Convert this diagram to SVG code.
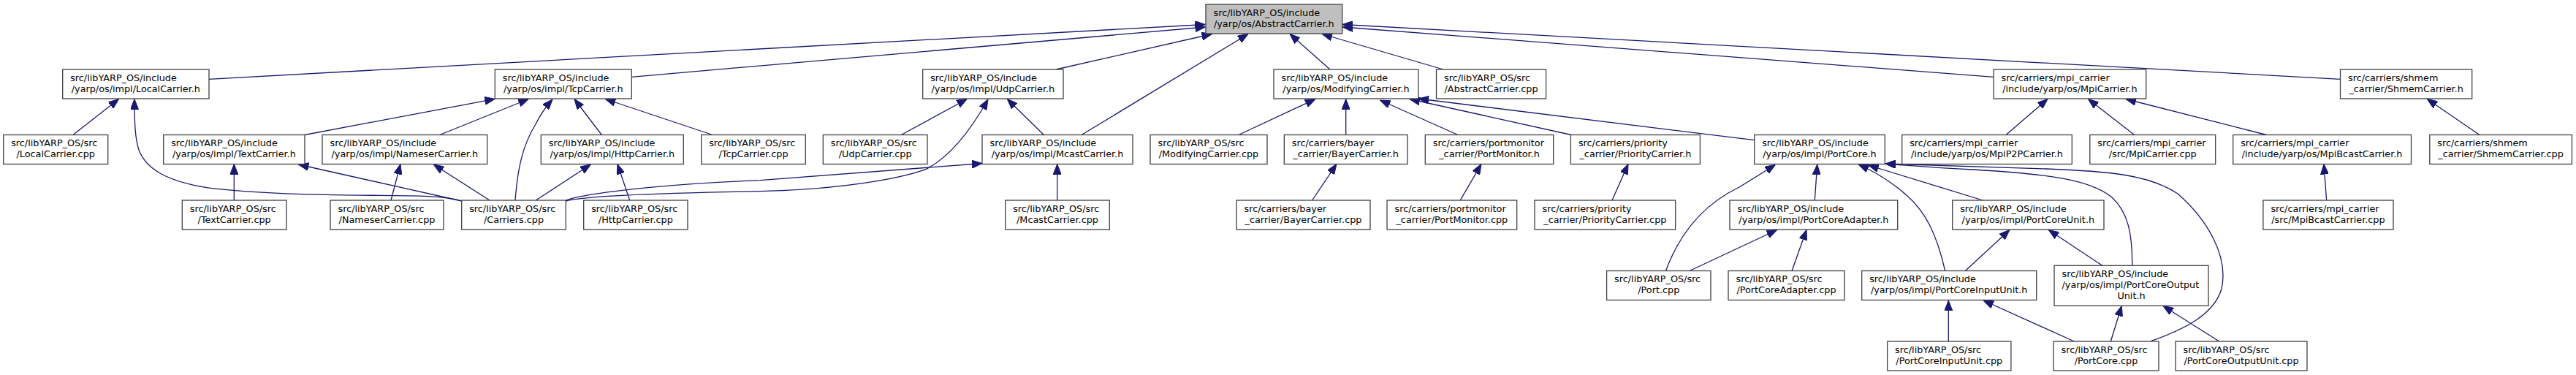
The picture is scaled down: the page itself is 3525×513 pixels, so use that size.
<svg xmlns="http://www.w3.org/2000/svg" width="3525" height="513" viewBox="0 0 3525 513">
<style>
.n rect{fill:#fff;stroke:#404040;stroke-width:1.3}
.n.root rect{fill:#bfbfbf}
.n text{font-family:"DejaVu Sans",sans-serif;font-size:12.8px;fill:#000}
.n text.m{text-anchor:middle}
.e path{fill:none;stroke:#191970;stroke-width:1.3;marker-end:url(#a)}
</style>
<defs>
<marker id="a" viewBox="0 0 14 11" refX="14" refY="5.5" markerWidth="14" markerHeight="11" markerUnits="userSpaceOnUse" orient="auto">
<path d="M0,0 L14,5.5 L0,11 z" fill="#191970" stroke="#191970" stroke-width="1"/>
</marker>
</defs>
<rect width="3525" height="513" fill="#fff"/>
<g id="edges" class="e">
<path d="M286,108.3 L1649.5,33.5"/>
<path d="M864.3,105.3 L1649.5,37"/>
<path d="M1445,95 L1658.5,46.5"/>
<path d="M1480,184.5 L1708,46.5"/>
<path d="M1820,95 L1765,46.5"/>
<path d="M1975,95 L1809,46.5"/>
<path d="M2728,105.3 L1837,37"/>
<path d="M3202.5,108.3 L1837,33.5"/>
<path d="M100,184.5 L162.5,135.5"/>
<path d="M631.7,275 C610,268 570,267.5 520,267.3 C420,267 330,263 283,256.7 C230,248 200,232 190,205 C185,190 184,170 184,135.5"/>
<path d="M417,184.5 L677.3,135.3"/>
<path d="M601.7,184.5 L723.3,135.5"/>
<path d="M705,274 C708,235 714,200 733,170 C740,155 748,145 756,136"/>
<path d="M823.3,184.5 L786,135.5"/>
<path d="M975,184.5 L828.3,135.5"/>
<path d="M320.3,274 L320.3,224.5"/>
<path d="M631.7,275 L408.5,225"/>
<path d="M535,274 L548,224.5"/>
<path d="M670,274 L593.3,225"/>
<path d="M733.3,274 L808.3,225"/>
<path d="M861.7,274 L845,224.5"/>
<path d="M1233.3,184.5 L1323.3,135.5"/>
<path d="M774.3,275 C800,268 900,264 1040,261.7 C1150,259 1230,245 1266.7,231.7 C1300,215 1330,175 1352,136"/>
<path d="M1428.3,184.5 L1378.3,135.5"/>
<path d="M774.3,274 C800,265 900,252 1040,246.7 L1344,223.5"/>
<path d="M1446.7,274 L1446.7,224.5"/>
<path d="M1695,184.5 L1800,135.5"/>
<path d="M1841.7,184.5 L1841.7,135.5"/>
<path d="M1995,184.5 L1888.5,137"/>
<path d="M2150,184.5 L1929,135.5"/>
<path d="M2400.7,191.7 L1941,135"/>
<path d="M1795.6,274 L1828.9,224.5"/>
<path d="M1998.2,274 L2027,224.5"/>
<path d="M2206,274 L2228,224.5"/>
<path d="M2279.5,370.5 C2298,320 2330,280 2380,256 L2429.3,225.5"/>
<path d="M2483.3,274 L2486.7,225"/>
<path d="M2661.7,370.5 C2650,320 2635,290 2610,268 C2590,250 2570,237 2543.3,225"/>
<path d="M2713.3,274 L2556.7,226"/>
<path d="M2917.7,363.3 C2918,320 2912,290 2890,270 C2860,245 2800,238 2700,232 C2640,229 2610,226 2580,224"/>
<path d="M2943.3,466.7 C2990,450 3030,430 3040,395 C3050,350 3020,300 2980,265 C2940,238 2880,234 2800,231 C2700,228 2630,226 2580,224"/>
<path d="M2312,370.5 L2431.6,314.5"/>
<path d="M2452,370.5 L2472,314.5"/>
<path d="M2689.3,370.5 L2750,314.5"/>
<path d="M2876.7,363.3 L2803.3,314.5"/>
<path d="M2666.3,467 L2666.3,411"/>
<path d="M2838.3,467 L2714,411"/>
<path d="M2888.3,467 L2903.3,418.5"/>
<path d="M3036.7,467 L2960,418.5"/>
<path d="M2745,184.5 L2802,135.5"/>
<path d="M2920.6,184.5 L2857.5,135.5"/>
<path d="M3101.5,184.5 L2909,135.5"/>
<path d="M3183.6,274 L3180,224.5"/>
<path d="M3393,184.5 L3321.3,135.5"/>
</g>
<g id="abstract_h" class="n root"><rect x="1650" y="6" width="186.7" height="40"/><text x="1660.5" y="21.5">src/libYARP_OS/include</text><text class="m" x="1743.35" y="36.5">/yarp/os/AbstractCarrier.h</text></g>
<g id="local_h" class="n"><rect x="85.7" y="95" width="200.3" height="40"/><text x="96.2" y="110.5">src/libYARP_OS/include</text><text class="m" x="185.85" y="125.5">/yarp/os/impl/LocalCarrier.h</text></g>
<g id="tcp_h" class="n"><rect x="677.3" y="95" width="187" height="40"/><text x="687.8" y="110.5">src/libYARP_OS/include</text><text class="m" x="770.8" y="125.5">/yarp/os/impl/TcpCarrier.h</text></g>
<g id="udp_h" class="n"><rect x="1262.7" y="95" width="192.3" height="40"/><text x="1273.2" y="110.5">src/libYARP_OS/include</text><text class="m" x="1358.85" y="125.5">/yarp/os/impl/UdpCarrier.h</text></g>
<g id="modifying_h" class="n"><rect x="1743" y="95" width="197.9" height="40"/><text x="1753.5" y="110.5">src/libYARP_OS/include</text><text class="m" x="1841.95" y="125.5">/yarp/os/ModifyingCarrier.h</text></g>
<g id="abstract_cpp" class="n"><rect x="1965.5" y="95" width="150.1" height="40"/><text x="1976" y="110.5">src/libYARP_OS/src</text><text class="m" x="2040.55" y="125.5">/AbstractCarrier.cpp</text></g>
<g id="mpi_h" class="n"><rect x="2728" y="95" width="208.7" height="40"/><text x="2738.5" y="110.5">src/carriers/mpi_carrier</text><text class="m" x="2832.35" y="125.5">/include/yarp/os/MpiCarrier.h</text></g>
<g id="shmem_h" class="n"><rect x="3202.5" y="95" width="180.2" height="40"/><text x="3213" y="110.5">src/carriers/shmem</text><text class="m" x="3292.6" y="125.5">_carrier/ShmemCarrier.h</text></g>
<g id="local_cpp" class="n"><rect x="4.7" y="184.5" width="143" height="40"/><text x="15.2" y="200">src/libYARP_OS/src</text><text class="m" x="76.2" y="215">/LocalCarrier.cpp</text></g>
<g id="text_h" class="n"><rect x="223.7" y="184.5" width="193.3" height="40"/><text x="234.2" y="200">src/libYARP_OS/include</text><text class="m" x="320.35" y="215">/yarp/os/impl/TextCarrier.h</text></g>
<g id="nameser_h" class="n"><rect x="441" y="184.5" width="225.7" height="40"/><text x="451.5" y="200">src/libYARP_OS/include</text><text class="m" x="553.85" y="215">/yarp/os/impl/NameserCarrier.h</text></g>
<g id="http_h" class="n"><rect x="740.3" y="184.5" width="195" height="40"/><text x="750.8" y="200">src/libYARP_OS/include</text><text class="m" x="837.8" y="215">/yarp/os/impl/HttpCarrier.h</text></g>
<g id="tcp_cpp" class="n"><rect x="959.7" y="184.5" width="142.6" height="40"/><text x="970.2" y="200">src/libYARP_OS/src</text><text class="m" x="1031" y="215">/TcpCarrier.cpp</text></g>
<g id="udp_cpp" class="n"><rect x="1126.3" y="184.5" width="142.7" height="40"/><text x="1136.8" y="200">src/libYARP_OS/src</text><text class="m" x="1197.65" y="215">/UdpCarrier.cpp</text></g>
<g id="mcast_h" class="n"><rect x="1344" y="184.5" width="206" height="40"/><text x="1354.5" y="200">src/libYARP_OS/include</text><text class="m" x="1447" y="215">/yarp/os/impl/McastCarrier.h</text></g>
<g id="modifying_cpp" class="n"><rect x="1574" y="184.5" width="160" height="40"/><text x="1584.5" y="200">src/libYARP_OS/src</text><text class="m" x="1654" y="215">/ModifyingCarrier.cpp</text></g>
<g id="bayer_h" class="n"><rect x="1757.3" y="184.5" width="168.7" height="40"/><text x="1767.8" y="200">src/carriers/bayer</text><text class="m" x="1841.65" y="215">_carrier/BayerCarrier.h</text></g>
<g id="portmonitor_h" class="n"><rect x="1950.3" y="184.5" width="175.4" height="40"/><text x="1960.8" y="200">src/carriers/portmonitor</text><text class="m" x="2038" y="215">_carrier/PortMonitor.h</text></g>
<g id="priority_h" class="n"><rect x="2149.4" y="184.5" width="177" height="40"/><text x="2159.9" y="200">src/carriers/priority</text><text class="m" x="2237.9" y="215">_carrier/PriorityCarrier.h</text></g>
<g id="portcore_h" class="n"><rect x="2400.7" y="184.5" width="178.6" height="40"/><text x="2411.2" y="200">src/libYARP_OS/include</text><text class="m" x="2490" y="215">/yarp/os/impl/PortCore.h</text></g>
<g id="mpip2p_h" class="n"><rect x="2602.7" y="184.5" width="232.6" height="40"/><text x="2613.2" y="200">src/carriers/mpi_carrier</text><text class="m" x="2719" y="215">/include/yarp/os/MpiP2PCarrier.h</text></g>
<g id="mpi_cpp" class="n"><rect x="2859.8" y="184.5" width="171.9" height="40"/><text x="2870.3" y="200">src/carriers/mpi_carrier</text><text class="m" x="2945.75" y="215">/src/MpiCarrier.cpp</text></g>
<g id="mpibcast_h" class="n"><rect x="3055.7" y="184.5" width="243.8" height="40"/><text x="3066.2" y="200">src/carriers/mpi_carrier</text><text class="m" x="3177.6" y="215">/include/yarp/os/MpiBcastCarrier.h</text></g>
<g id="shmem_cpp" class="n"><rect x="3324.8" y="184.5" width="194.6" height="40"/><text x="3335.3" y="200">src/carriers/shmem</text><text class="m" x="3422.1" y="215">_carrier/ShmemCarrier.cpp</text></g>
<g id="text_cpp" class="n"><rect x="249.3" y="274" width="142.7" height="40"/><text x="259.8" y="289.5">src/libYARP_OS/src</text><text class="m" x="320.65" y="304.5">/TextCarrier.cpp</text></g>
<g id="nameser_cpp" class="n"><rect x="452" y="274" width="155" height="40"/><text x="462.5" y="289.5">src/libYARP_OS/src</text><text class="m" x="529.5" y="304.5">/NameserCarrier.cpp</text></g>
<g id="carriers_cpp" class="n"><rect x="631.7" y="274" width="142.6" height="40"/><text x="642.2" y="289.5">src/libYARP_OS/src</text><text class="m" x="703" y="304.5">/Carriers.cpp</text></g>
<g id="http_cpp" class="n"><rect x="798.7" y="274" width="142.3" height="40"/><text x="809.2" y="289.5">src/libYARP_OS/src</text><text class="m" x="869.85" y="304.5">/HttpCarrier.cpp</text></g>
<g id="mcast_cpp" class="n"><rect x="1375.7" y="274" width="142.6" height="40"/><text x="1386.2" y="289.5">src/libYARP_OS/src</text><text class="m" x="1447" y="304.5">/McastCarrier.cpp</text></g>
<g id="bayer_cpp" class="n"><rect x="1692" y="274" width="183" height="40"/><text x="1702.5" y="289.5">src/carriers/bayer</text><text class="m" x="1783.5" y="304.5">_carrier/BayerCarrier.cpp</text></g>
<g id="portmonitor_cpp" class="n"><rect x="1898" y="274" width="177.7" height="40"/><text x="1908.5" y="289.5">src/carriers/portmonitor</text><text class="m" x="1986.85" y="304.5">_carrier/PortMonitor.cpp</text></g>
<g id="priority_cpp" class="n"><rect x="2100" y="274" width="192.7" height="40"/><text x="2110.5" y="289.5">src/carriers/priority</text><text class="m" x="2196.35" y="304.5">_carrier/PriorityCarrier.cpp</text></g>
<g id="portcoreadapter_h" class="n"><rect x="2367" y="274" width="229.7" height="40"/><text x="2377.5" y="289.5">src/libYARP_OS/include</text><text class="m" x="2481.85" y="304.5">/yarp/os/impl/PortCoreAdapter.h</text></g>
<g id="portcoreunit_h" class="n"><rect x="2671.7" y="274" width="207.3" height="40"/><text x="2682.2" y="289.5">src/libYARP_OS/include</text><text class="m" x="2775.35" y="304.5">/yarp/os/impl/PortCoreUnit.h</text></g>
<g id="mpibcast_cpp" class="n"><rect x="3096.9" y="274" width="178.1" height="40"/><text x="3107.4" y="289.5">src/carriers/mpi_carrier</text><text class="m" x="3185.95" y="304.5">/src/MpiBcastCarrier.cpp</text></g>
<g id="port_cpp" class="n"><rect x="2198.6" y="370.5" width="142.4" height="40"/><text x="2209.1" y="386">src/libYARP_OS/src</text><text class="m" x="2269.8" y="401">/Port.cpp</text></g>
<g id="portcoreadapter_cpp" class="n"><rect x="2365" y="370.5" width="159" height="40"/><text x="2375.5" y="386">src/libYARP_OS/src</text><text class="m" x="2444.5" y="401">/PortCoreAdapter.cpp</text></g>
<g id="portcoreinputunit_h" class="n"><rect x="2547.7" y="370.5" width="239" height="40"/><text x="2558.2" y="386">src/libYARP_OS/include</text><text class="m" x="2667.2" y="401">/yarp/os/impl/PortCoreInputUnit.h</text></g>
<g id="portcoreoutputunit_h" class="n"><rect x="2811" y="363.3" width="211" height="55"/><text x="2821.5" y="378.8">src/libYARP_OS/include</text><text x="2821.5" y="393.8">/yarp/os/impl/PortCoreOutput</text><text class="m" x="2916.5" y="408.8">Unit.h</text></g>
<g id="portcoreinputunit_cpp" class="n"><rect x="2582.6" y="467" width="169.3" height="40"/><text x="2593.1" y="482.5">src/libYARP_OS/src</text><text class="m" x="2667.25" y="497.5">/PortCoreInputUnit.cpp</text></g>
<g id="portcore_cpp" class="n"><rect x="2810" y="467" width="144" height="40"/><text x="2820.5" y="482.5">src/libYARP_OS/src</text><text class="m" x="2882" y="497.5">/PortCore.cpp</text></g>
<g id="portcoreoutputunit_cpp" class="n"><rect x="2977" y="467" width="180" height="40"/><text x="2987.5" y="482.5">src/libYARP_OS/src</text><text class="m" x="3067" y="497.5">/PortCoreOutputUnit.cpp</text></g>
</svg>
